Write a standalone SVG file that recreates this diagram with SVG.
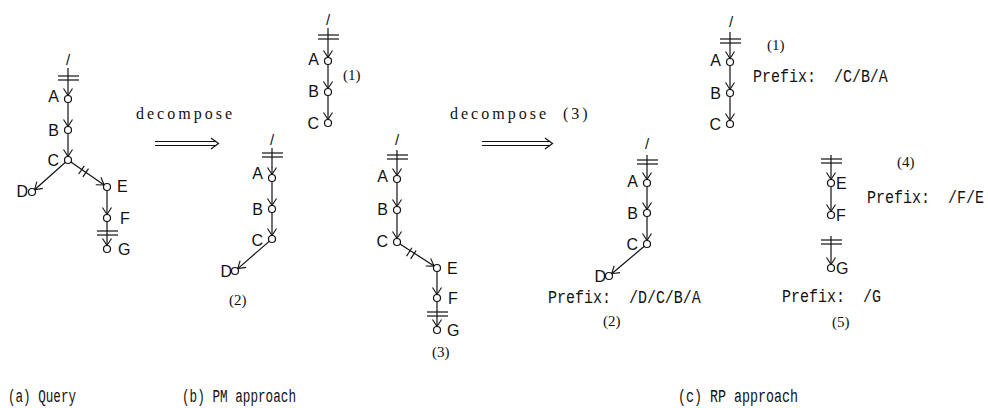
<svg xmlns="http://www.w3.org/2000/svg" width="988" height="408" viewBox="0 0 988 408">
<style>
.e{stroke:#111;stroke-width:1.2;fill:none}
.a{marker-end:url(#ah)}
.n circle{fill:#fff;stroke:#111;stroke-width:1.2}
.lb{font-family:"Liberation Sans",Arial,sans-serif;font-size:16px;fill:#111}
.rt{font-family:"Liberation Sans",Arial,sans-serif;font-size:15px;fill:#111}
.num{font-family:"Liberation Serif","Times New Roman",serif;font-size:15px;fill:#111}
.pre{font-family:"Liberation Mono","Courier New",monospace;font-size:15px;fill:#111}
.dec{font-family:"Liberation Serif","Times New Roman",serif;font-size:16px;letter-spacing:3px;fill:#111}
.cap{font-family:"Liberation Mono","Courier New",monospace;font-size:18px;fill:#111}
</style>
<defs>
<marker id="ah" markerWidth="10" markerHeight="10" refX="7" refY="4.5" orient="auto" markerUnits="userSpaceOnUse" overflow="visible">
<path d="M0,0 L7,4.5 L0,9" fill="none" stroke="#111" stroke-width="1.1"/>
</marker>
</defs>

<g id="connectors">
<!-- Query -->
<line class="e" x1="58" y1="76" x2="79" y2="76"/><line class="e" x1="58" y1="80" x2="79" y2="80"/>
<line class="e a" x1="68" y1="68" x2="68" y2="95.5"/>
<line class="e a" x1="68" y1="102.5" x2="68" y2="126.5"/>
<line class="e a" x1="68" y1="133.5" x2="68" y2="156.5"/>
<line class="e a" x1="65.4" y1="162.3" x2="34.6" y2="189.7"/>
<line class="e a" x1="70.9" y1="162" x2="104.1" y2="185"/>
<line class="e" x1="78.7" y1="174" x2="84.3" y2="165.8"/><line class="e" x1="82.9" y1="176.8" x2="88.5" y2="168.6"/>
<line class="e a" x1="107" y1="190.5" x2="107" y2="214.5"/>
<line class="e" x1="97" y1="231" x2="118" y2="231"/><line class="e" x1="97" y1="235" x2="118" y2="235"/>
<line class="e a" x1="107" y1="221.5" x2="107" y2="245.5"/>
<!-- decompose arrow 1 -->
<line class="e" x1="155" y1="141.5" x2="216" y2="141.5"/><line class="e" x1="155" y1="145.5" x2="216" y2="145.5"/>
<path class="e" d="M211,138 L218.5,143.5 L211,149"/>
<!-- PM (1) -->
<line class="e" x1="318" y1="35" x2="339" y2="35"/><line class="e" x1="318" y1="39" x2="339" y2="39"/>
<line class="e a" x1="328" y1="28" x2="328" y2="57.5"/>
<line class="e a" x1="328" y1="64.5" x2="328" y2="88.5"/>
<line class="e a" x1="328" y1="95.5" x2="328" y2="119.5"/>
<!-- PM (2) -->
<line class="e" x1="262" y1="153" x2="283" y2="153"/><line class="e" x1="262" y1="157" x2="283" y2="157"/>
<line class="e a" x1="272" y1="148" x2="272" y2="174.5"/>
<line class="e a" x1="272" y1="181.5" x2="272" y2="205.5"/>
<line class="e a" x1="272" y1="212.5" x2="272" y2="235.5"/>
<line class="e a" x1="269.2" y1="241.4" x2="237.8" y2="268.6"/>
<!-- PM (3) -->
<line class="e" x1="387" y1="155" x2="408" y2="155"/><line class="e" x1="387" y1="159" x2="408" y2="159"/>
<line class="e a" x1="397" y1="150" x2="397" y2="175.5"/>
<line class="e a" x1="397" y1="182.5" x2="397" y2="206.5"/>
<line class="e a" x1="397" y1="213.5" x2="397" y2="238.5"/>
<line class="e a" x1="399.9" y1="243.9" x2="434.1" y2="266.1"/>
<line class="e" x1="406.5" y1="256.2" x2="411.9" y2="247.8"/><line class="e" x1="410.7" y1="258.9" x2="416.1" y2="250.5"/>
<line class="e a" x1="437" y1="271.5" x2="437" y2="294.5"/>
<line class="e" x1="427" y1="312" x2="448" y2="312"/><line class="e" x1="427" y1="316" x2="448" y2="316"/>
<line class="e a" x1="437" y1="301.5" x2="437" y2="326.5"/>
<!-- decompose arrow 2 -->
<line class="e" x1="482" y1="141.5" x2="550" y2="141.5"/><line class="e" x1="482" y1="145.5" x2="550" y2="145.5"/>
<path class="e" d="M545,138 L552.5,143.5 L545,149"/>
<!-- RP (1) -->
<line class="e" x1="720" y1="39" x2="741" y2="39"/><line class="e" x1="720" y1="43" x2="741" y2="43"/>
<line class="e a" x1="730" y1="32" x2="730" y2="58.5"/>
<line class="e a" x1="730" y1="65.5" x2="730" y2="89.5"/>
<line class="e a" x1="730" y1="96.5" x2="730" y2="120.5"/>
<!-- RP (2) -->
<line class="e" x1="637" y1="160" x2="658" y2="160"/><line class="e" x1="637" y1="164" x2="658" y2="164"/>
<line class="e a" x1="647" y1="155" x2="647" y2="179.5"/>
<line class="e a" x1="647" y1="186.5" x2="647" y2="209.5"/>
<line class="e a" x1="647" y1="216.5" x2="647" y2="240.5"/>
<line class="e a" x1="644.3" y1="246.3" x2="611.7" y2="273.7"/>
<!-- RP (4) -->
<line class="e" x1="821" y1="159" x2="842" y2="159"/><line class="e" x1="821" y1="163" x2="842" y2="163"/>
<line class="e a" x1="831" y1="155" x2="831" y2="179.5"/>
<line class="e a" x1="831" y1="186.5" x2="831" y2="211.5"/>
<!-- RP (5) -->
<line class="e" x1="821" y1="240" x2="842" y2="240"/><line class="e" x1="821" y1="244" x2="842" y2="244"/>
<line class="e a" x1="831" y1="236" x2="831" y2="264.5"/>
</g>

<!-- Query nodes -->
<g id="q-root"><text class="rt" x="66" y="65">/</text></g>
<g id="q-A" class="n"><circle cx="68" cy="99" r="3.5"/><text class="lb" x="59" y="102" text-anchor="end">A</text></g>
<g id="q-B" class="n"><circle cx="68" cy="130" r="3.5"/><text class="lb" x="59" y="136" text-anchor="end">B</text></g>
<g id="q-C" class="n"><circle cx="68" cy="160" r="3.5"/><text class="lb" x="59" y="166" text-anchor="end">C</text></g>
<g id="q-D" class="n"><circle cx="32" cy="192" r="3.5"/><text class="lb" x="28" y="197" text-anchor="end">D</text></g>
<g id="q-E" class="n"><circle cx="107" cy="187" r="3.5"/><text class="lb" x="117" y="192">E</text></g>
<g id="q-F" class="n"><circle cx="107" cy="218" r="3.5"/><text class="lb" x="120" y="224">F</text></g>
<g id="q-G" class="n"><circle cx="107" cy="249" r="3.5"/><text class="lb" x="118" y="255">G</text></g>

<g id="dec1"><text class="dec" x="136" y="119">decompose</text></g>

<!-- PM (1) -->
<g id="pm1-root"><text class="rt" x="326" y="25">/</text></g>
<g id="pm1-A" class="n"><circle cx="328" cy="61" r="3.5"/><text class="lb" x="319" y="65" text-anchor="end">A</text></g>
<g id="pm1-B" class="n"><circle cx="328" cy="92" r="3.5"/><text class="lb" x="319" y="97" text-anchor="end">B</text></g>
<g id="pm1-C" class="n"><circle cx="328" cy="123" r="3.5"/><text class="lb" x="319" y="129" text-anchor="end">C</text></g>
<g id="pm1-label"><text class="num" x="343" y="80">(1)</text></g>

<!-- PM (2) -->
<g id="pm2-root"><text class="rt" x="270" y="145">/</text></g>
<g id="pm2-A" class="n"><circle cx="272" cy="178" r="3.5"/><text class="lb" x="263" y="179" text-anchor="end">A</text></g>
<g id="pm2-B" class="n"><circle cx="272" cy="209" r="3.5"/><text class="lb" x="263" y="215" text-anchor="end">B</text></g>
<g id="pm2-C" class="n"><circle cx="272" cy="239" r="3.5"/><text class="lb" x="263" y="246" text-anchor="end">C</text></g>
<g id="pm2-D" class="n"><circle cx="235" cy="271" r="3.5"/><text class="lb" x="232" y="277" text-anchor="end">D</text></g>
<g id="pm2-label"><text class="num" x="229" y="305">(2)</text></g>

<!-- PM (3) -->
<g id="pm3-root"><text class="rt" x="395" y="145">/</text></g>
<g id="pm3-A" class="n"><circle cx="397" cy="179" r="3.5"/><text class="lb" x="388" y="182" text-anchor="end">A</text></g>
<g id="pm3-B" class="n"><circle cx="397" cy="210" r="3.5"/><text class="lb" x="388" y="215" text-anchor="end">B</text></g>
<g id="pm3-C" class="n"><circle cx="397" cy="242" r="3.5"/><text class="lb" x="388" y="247" text-anchor="end">C</text></g>
<g id="pm3-E" class="n"><circle cx="437" cy="268" r="3.5"/><text class="lb" x="447" y="274">E</text></g>
<g id="pm3-F" class="n"><circle cx="437" cy="298" r="3.5"/><text class="lb" x="448" y="304">F</text></g>
<g id="pm3-G" class="n"><circle cx="437" cy="330" r="3.5"/><text class="lb" x="447" y="336">G</text></g>
<g id="pm3-label"><text class="num" x="432" y="357">(3)</text></g>

<g id="dec2"><text class="dec" x="450" y="119" xml:space="preserve">decompose  (3)</text></g>

<!-- RP (1) -->
<g id="rp1-root"><text class="rt" x="729" y="27">/</text></g>
<g id="rp1-A" class="n"><circle cx="730" cy="62" r="3.5"/><text class="lb" x="721" y="66" text-anchor="end">A</text></g>
<g id="rp1-B" class="n"><circle cx="730" cy="93" r="3.5"/><text class="lb" x="721" y="99" text-anchor="end">B</text></g>
<g id="rp1-C" class="n"><circle cx="730" cy="124" r="3.5"/><text class="lb" x="721" y="130" text-anchor="end">C</text></g>
<g id="rp1-label"><text class="num" x="767" y="50">(1)</text></g>
<g id="rp1-prefix" transform="translate(753,82) scale(1,1.2)"><text class="pre" x="0" y="0" xml:space="preserve">Prefix:  /C/B/A</text></g>

<!-- RP (2) -->
<g id="rp2-root"><text class="rt" x="645" y="149">/</text></g>
<g id="rp2-A" class="n"><circle cx="647" cy="183" r="3.5"/><text class="lb" x="638" y="187" text-anchor="end">A</text></g>
<g id="rp2-B" class="n"><circle cx="647" cy="213" r="3.5"/><text class="lb" x="638" y="219" text-anchor="end">B</text></g>
<g id="rp2-C" class="n"><circle cx="647" cy="244" r="3.5"/><text class="lb" x="638" y="250" text-anchor="end">C</text></g>
<g id="rp2-D" class="n"><circle cx="609" cy="276" r="3.5"/><text class="lb" x="606" y="282" text-anchor="end">D</text></g>
<g id="rp2-prefix" transform="translate(548,303) scale(1,1.2)"><text class="pre" x="0" y="0" xml:space="preserve">Prefix:  /D/C/B/A</text></g>
<g id="rp2-label"><text class="num" x="603" y="326">(2)</text></g>

<!-- RP (4) -->
<g id="rp4-E" class="n"><circle cx="831" cy="183" r="3.5"/><text class="lb" x="836" y="189">E</text></g>
<g id="rp4-F" class="n"><circle cx="831" cy="215" r="3.5"/><text class="lb" x="836" y="221">F</text></g>
<g id="rp4-label"><text class="num" x="897" y="167">(4)</text></g>
<g id="rp4-prefix" transform="translate(867,203) scale(1,1.2)"><text class="pre" x="0" y="0" xml:space="preserve">Prefix:  /F/E</text></g>

<!-- RP (5) -->
<g id="rp5-G" class="n"><circle cx="831" cy="268" r="3.5"/><text class="lb" x="836" y="274">G</text></g>
<g id="rp5-prefix" transform="translate(782,302) scale(1,1.2)"><text class="pre" x="0" y="0" xml:space="preserve">Prefix:  /G</text></g>
<g id="rp5-label"><text class="num" x="832" y="327">(5)</text></g>

<!-- captions -->
<g id="captions">
<text class="cap" x="8" y="402" textLength="68" lengthAdjust="spacingAndGlyphs">(a) Query</text>
<text class="cap" x="182" y="402" textLength="114" lengthAdjust="spacingAndGlyphs">(b) PM approach</text>
<text class="cap" x="678" y="402" textLength="120" lengthAdjust="spacingAndGlyphs">(c) RP approach</text>
</g>
</svg>
